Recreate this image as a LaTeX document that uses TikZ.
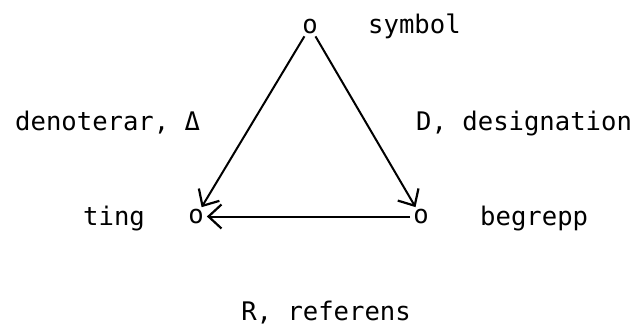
\documentclass[tikz,border=0pt]{standalone}
\usepackage{fontspec}
\newfontfamily\diagmono{DejaVu Sans Mono}
\usetikzlibrary{arrows.meta}
\tikzset{
  lbl/.style={font=\diagmono\fontsize{25.6bp}{30bp}\selectfont, inner sep=0pt},
  pt/.style={lbl, circle, minimum size=19bp},
  arr/.style={line width=2bp, -{Straight Barb[length=13bp,width=24bp,line width=2.2bp]}}
}
\begin{document}
\begin{tikzpicture}[x=1bp,y=1bp]
\useasboundingbox (0,0) rectangle (642,325);
\node[pt] (top) at (310,298) {o};
\node[pt] (left) at (196,108.5) {o};
\node[pt] (right) at (421,108.5) {o};
\draw[arr] (top) -- (left);
\draw[arr] (top) -- (right);
\draw[arr] (right) -- (left);
\node[lbl, anchor=base west] (lsym) at (368,292) {symbol};
\node[lbl, anchor=base west] (lden) at (15,195) {denoterar, Δ};
\node[lbl, anchor=base west] (ldes) at (416,195) {D, designation};
\node[lbl, anchor=base west] (lting) at (83,100) {ting};
\node[lbl, anchor=base west] (lbeg) at (480,100) {begrepp};
\node[lbl, anchor=base east] (lref) at (411,5) {R, referens};
\end{tikzpicture}
\end{document}
